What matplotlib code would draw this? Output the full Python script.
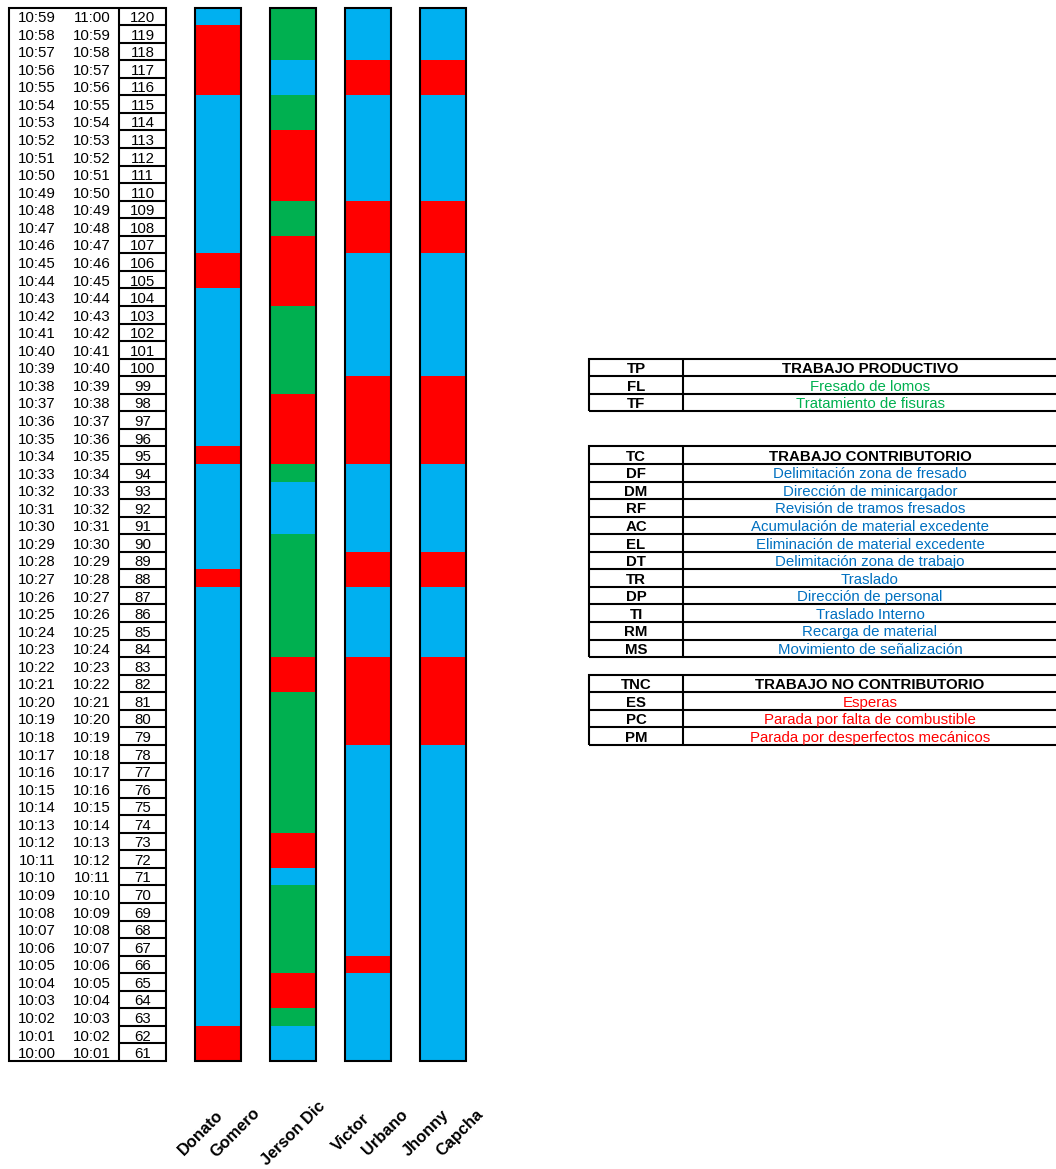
import matplotlib
matplotlib.use("Agg")
import matplotlib.pyplot as plt
from matplotlib.patches import Rectangle

plt.rcParams['font.family'] = ['Liberation Sans', 'DejaVu Sans']

# minute index of the observation (61 = 10:00-10:01 ... 120 = 10:59-11:00)
minutes = list(range(61, 121))

worker_labels = [["Donato", "Gomero"], ["Jerson Dic"], ["Victor", "Urbano"], ["Jhonny", "Capcha"]]

# activity per worker as (first minute, last minute, category)
donato = [(61, 62, "TNC"), (63, 87, "TC"), (88, 88, "TNC"), (89, 94, "TC"), (95, 95, "TNC"),
          (96, 104, "TC"), (105, 106, "TNC"), (107, 115, "TC"), (116, 119, "TNC"), (120, 120, "TC")]
jerson = [(61, 62, "TC"), (63, 63, "TP"), (64, 65, "TNC"), (66, 70, "TP"), (71, 71, "TC"),
          (72, 73, "TNC"), (74, 81, "TP"), (82, 83, "TNC"), (84, 90, "TP"), (91, 93, "TC"),
          (94, 94, "TP"), (95, 98, "TNC"), (99, 103, "TP"), (104, 107, "TNC"), (108, 109, "TP"),
          (110, 113, "TNC"), (114, 115, "TP"), (116, 117, "TC"), (118, 120, "TP")]
victor = [(61, 65, "TC"), (66, 66, "TNC"), (67, 78, "TC"), (79, 83, "TNC"), (84, 87, "TC"),
          (88, 89, "TNC"), (90, 94, "TC"), (95, 99, "TNC"), (100, 106, "TC"), (107, 109, "TNC"),
          (110, 115, "TC"), (116, 117, "TNC"), (118, 120, "TC")]
jhonny = [(61, 78, "TC"), (79, 83, "TNC"), (84, 87, "TC"), (88, 89, "TNC"), (90, 94, "TC"),
          (95, 99, "TNC"), (100, 106, "TC"), (107, 109, "TNC"), (110, 115, "TC"), (116, 117, "TNC"),
          (118, 120, "TC")]
workers = [donato, jerson, victor, jhonny]

cat_colors = {"TP": "#00B050", "TC": "#00B0F0", "TNC": "#FF0000"}
text_colors = {"TP": "#00B050", "TC": "#0070C0", "TNC": "#FF0000"}

# legend tables
tp_codes = ["FL", "TF"]
tp_desc = ["Fresado de lomos", "Tratamiento de fisuras"]
tc_codes = ["DF", "DM", "RF", "AC", "EL", "DT", "TR", "DP", "TI", "RM", "MS"]
tc_desc = ["Delimitación zona de fresado", "Dirección de minicargador", "Revisión de tramos fresados",
           "Acumulación de material excedente", "Eliminación de material excedente",
           "Delimitación zona de trabajo", "Traslado", "Dirección de personal", "Traslado Interno",
           "Recarga de material", "Movimiento de señalización"]
tnc_codes = ["ES", "PC", "PM"]
tnc_desc = ["Esperas", "Parada por falta de combustible", "Parada por desperfectos mecánicos"]

legend_tables = [("TP", "TRABAJO PRODUCTIVO", tp_codes, tp_desc, 100),
                 ("TC", "TRABAJO CONTRIBUTORIO", tc_codes, tc_desc, 95),
                 ("TNC", "TRABAJO NO CONTRIBUTORIO", tnc_codes, tnc_desc, 82)]


def clock(m):
    t = 600 + m - 61
    return f"{t // 60}:{t % 60:02d}"


fig = plt.figure(figsize=(10.56, 11.69), dpi=100)
ax = fig.add_axes([0, 0, 1, 1])
row_h = (1061 - 7.5) / 60
ax.set_xlim(0, 1056)
ax.set_ylim(60.5 - (1169 - 1061) / row_h, 120.5 + 7.5 / row_h)
ax.axis("off")

fs = 10.8
lw = 1.5
top, bottom = minutes[-1] + 0.5, minutes[0] - 0.5

# left time table
tab_l, tab_mid, tab_r = 8.5, 118.7, 166
ax.add_patch(Rectangle((tab_l, bottom), tab_r - tab_l, top - bottom, fill=False, lw=lw, ec="black"))
ax.vlines(tab_mid, bottom, top, color="black", lw=lw)
ax.hlines([m + 0.5 for m in minutes[:-1]], tab_mid, tab_r, color="black", lw=lw)
for m in minutes:
    y = m - 0.02
    ax.text(37, y, clock(m), ha="center", va="center_baseline", fontsize=fs)
    ax.text(92, y, clock(m + 1), ha="center", va="center_baseline", fontsize=fs)
    ax.text(142.5, y, str(m), ha="center", va="center_baseline", fontsize=fs)

# worker columns
col_x = [218, 293, 368, 443]
col_w = 46
for x, segs in zip(col_x, workers):
    starts = [s - 0.5 for s, e, c in segs]
    heights = [e - s + 1 for s, e, c in segs]
    colors = [cat_colors[c] for s, e, c in segs]
    ax.bar([x] * len(segs), heights, bottom=starts, width=col_w, color=colors,
           edgecolor="none", linewidth=0)
    ax.add_patch(Rectangle((x - col_w / 2, bottom), col_w, top - bottom, fill=False,
                           lw=lw, ec="black", zorder=3))

y_lab = 120.5 - (1133 - 7.5) / row_h
for x, lines in zip(col_x, worker_labels):
    if len(lines) == 1:
        offsets = [0]
    else:
        offsets = [-17, 17]
    for dx, txt in zip(offsets, lines):
        ax.text(x + dx, y_lab, txt, rotation=45, ha="center", va="center",
                fontsize=11.8, fontweight="bold")

# legend tables
lg_l, lg_mid, lg_r = 589.3, 682.7, 1058
for cat, title, codes, descs, first_row in legend_tables:
    n = len(codes) + 1
    t_top = first_row + 0.5
    t_bot = t_top - n
    ax.add_patch(Rectangle((lg_l, t_bot), lg_r - lg_l, n, fill=False, lw=lw, ec="black"))
    ax.vlines(lg_mid, t_bot, t_top, color="black", lw=lw)
    ax.hlines([t_top - k for k in range(1, n)], lg_l, lg_r, color="black", lw=lw)
    ax.text(636, first_row, cat, ha="center", va="center_baseline", fontsize=fs, fontweight="bold")
    ax.text(870, first_row, title, ha="center", va="center_baseline", fontsize=fs, fontweight="bold")
    for k, (code, desc) in enumerate(zip(codes, descs), start=1):
        ax.text(636, first_row - k, code, ha="center", va="center_baseline", fontsize=fs,
                fontweight="bold")
        ax.text(870, first_row - k, desc, ha="center", va="center_baseline", fontsize=fs,
                color=text_colors[cat])

fig.savefig("out.png", dpi=100)
